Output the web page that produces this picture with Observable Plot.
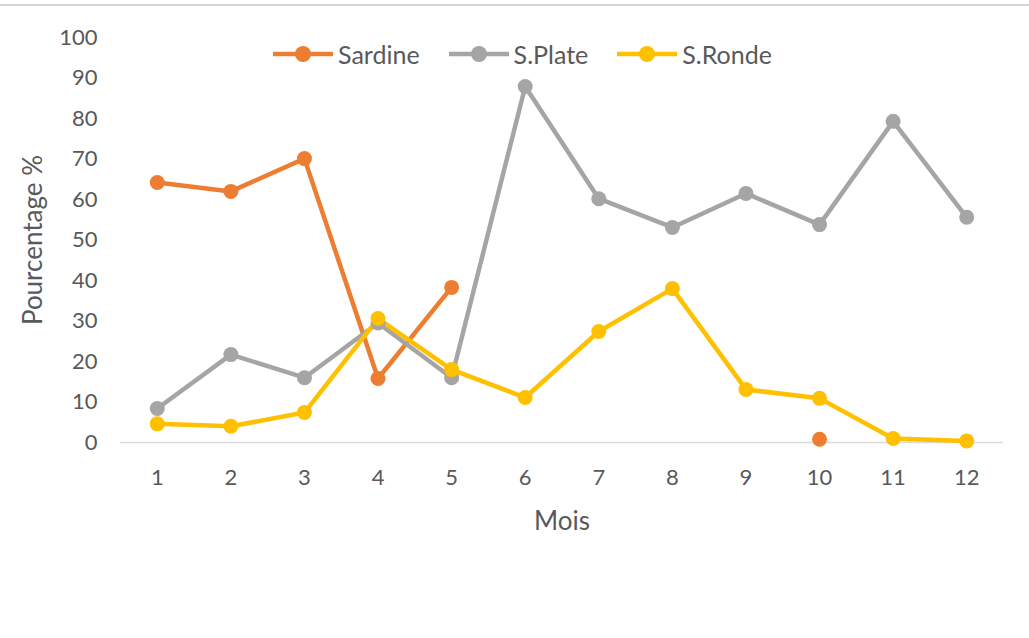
<!DOCTYPE html>
<html>
<head>
<meta charset="utf-8">
<script src="https://cdn.jsdelivr.net/npm/d3@7"></script>
<script src="https://cdn.jsdelivr.net/npm/@observablehq/plot@0.6"></script>
<style>
  html, body { margin: 0; padding: 0; background: #fff; }
  #wrap { position: relative; width: 1029px; height: 638px; overflow: hidden; font-family: Lato, "Open Sans", sans-serif; }
  #topline { position: absolute; left: 0; top: 4px; width: 1029px; height: 2px; background: #d6d6d6; }
  #legend { position: absolute; left: 273px; top: 39px; display: flex; align-items: center; gap: 29px; font-size: 25px; line-height: 30px; color: #595959; }
  .item { display: flex; align-items: center; gap: 5px; }
  .item svg { display: block; }
</style>
</head>
<body>
<div id="wrap">
  <div id="topline"></div>
  <div id="chart"></div>
  <div id="legend"></div>
</div>
<script>
const months = [1, 2, 3, 4, 5, 6, 7, 8, 9, 10, 11, 12];
const seriesNames = ["Sardine", "S.Plate", "S.Ronde"];
const seriesColors = ["#ED7D31", "#A5A5A5", "#FFC000"];
const sardine = [64.2, 62.0, 70.1, 15.8, 38.3, null, null, null, null, 0.8, null, null];
const sPlate  = [8.4, 21.7, 16.0, 29.5, 16.0, 87.9, 60.2, 53.1, 61.5, 53.8, 79.3, 55.6];
const sRonde  = [4.6, 4.0, 7.4, 30.6, 18.0, 11.1, 27.4, 38.0, 13.1, 10.9, 1.0, 0.4];
const yTicks = [0, 10, 20, 30, 40, 50, 60, 70, 80, 90, 100];

const seriesValues = [sardine, sPlate, sRonde];
const data = [];
seriesNames.forEach((name, i) => {
  months.forEach((m, j) => data.push({series: name, month: m, value: seriesValues[i][j]}));
});

const textColor = "#595959";

const chart = Plot.plot({
  width: 1029,
  height: 638,
  marginLeft: 120,
  marginRight: 26,
  marginTop: 37,
  marginBottom: 196,
  style: {fontFamily: "Lato, 'Open Sans', sans-serif", fontSize: "22px", color: textColor, background: "transparent"},
  x: {type: "point", domain: months, padding: 0.5, round: false, label: null},
  y: {domain: [0, 100], label: null},
  color: {domain: seriesNames, range: seriesColors},
  marks: [
    Plot.ruleY([0], {stroke: "#d9d9d9", strokeWidth: 1.5}),
    Plot.axisX({tickSize: 0, tickPadding: 27, fontSize: 22, label: "Mois", labelAnchor: "center", labelArrow: "none", labelOffset: 87, fill: textColor}),
    Plot.axisY({ticks: yTicks, tickSize: 0, tickPadding: 23, fontSize: 22, label: "Pourcentage %", labelAnchor: "center", labelArrow: "none", labelOffset: 97, fill: textColor}),
    Plot.line(data, {x: "month", y: "value", z: "series", stroke: "series", strokeWidth: 4.5, curve: "linear"}),
    Plot.dot(data.filter(d => d.value != null), {x: "month", y: "value", fill: "series", r: 7.5})
  ]
});
chart.style.position = "absolute";
chart.style.left = "0";
chart.style.top = "0";
document.getElementById("chart").appendChild(chart);

// axis titles are larger than tick labels
chart.querySelectorAll("[aria-label='x-axis label'] text").forEach(t => t.setAttribute("font-size", "26px"));
chart.querySelectorAll("[aria-label='y-axis label'] text").forEach(t => t.setAttribute("font-size", "26px"));

const legend = document.getElementById("legend");
seriesNames.forEach((name, i) => {
  const item = document.createElement("div");
  item.className = "item";
  item.innerHTML = `<svg width="60" height="20"><line x1="0" y1="10" x2="60" y2="10" stroke="${seriesColors[i]}" stroke-width="4.5"/><circle cx="30" cy="10" r="8" fill="${seriesColors[i]}"/></svg><span>${name}</span>`;
  legend.appendChild(item);
});
</script>
</body>
</html>
